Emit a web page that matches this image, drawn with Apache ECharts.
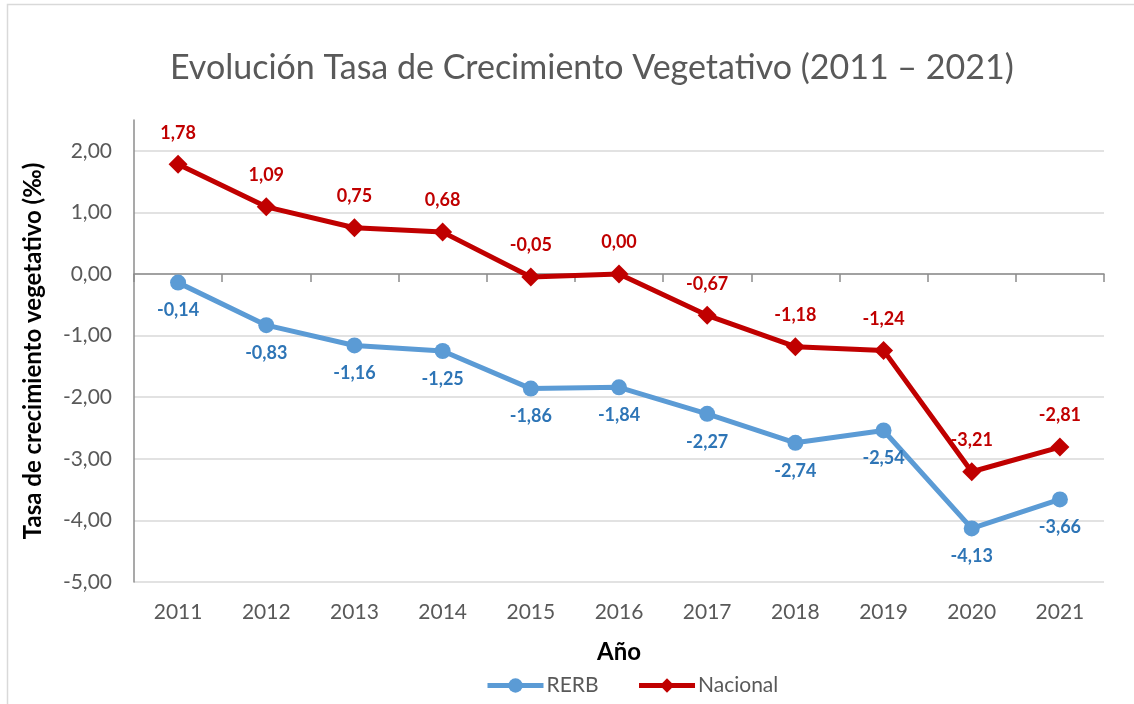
<!DOCTYPE html>
<html><head><meta charset="utf-8">
<script src="https://cdn.jsdelivr.net/npm/echarts@6/dist/echarts.min.js"></script>
<style>html,body{margin:0;padding:0;background:#fff}#c{width:1134px;height:704px}</style>
</head><body><div id="c"></div>
<script>
const years = ['2011','2012','2013','2014','2015','2016','2017','2018','2019','2020','2021'];
const rerb = [-0.14,-0.83,-1.16,-1.25,-1.86,-1.84,-2.27,-2.74,-2.54,-4.13,-3.66];
const nacional = [1.78,1.09,0.75,0.68,-0.05,0.00,-0.67,-1.18,-1.24,-3.21,-2.81];
const FONT = 'Lato';
const fmt = v => v.toFixed(2).replace('.', ',');
const chart = echarts.init(document.getElementById('c'), null, {renderer:'canvas'});
chart.setOption({
  animation:false,
  textStyle:{fontFamily:FONT},
  graphic:[{type:'rect',shape:{x:7.5,y:4.5,width:1140,height:710},style:{fill:'none',stroke:'#d9d9d9',lineWidth:1.5},silent:true}],
  title:{text:'Evolución Tasa de Crecimiento Vegetativo (2011 – 2021)',left:165,top:46,
    textStyle:{fontFamily:FONT,fontSize:34,fontWeight:'normal',color:'#595959'}},
  grid:{left:134,right:30,top:120,bottom:122},
  legend:{top:670,left:480,itemWidth:56,itemHeight:18,itemGap:38,
    lineStyle:{width:5},
    textStyle:{fontFamily:FONT,fontSize:21,color:'#595959',padding:[0,0,0,-2]},
    data:['RERB','Nacional']},
  xAxis:{type:'category',data:years,boundaryGap:true,
    name:'Año',nameLocation:'middle',nameGap:58,
    nameTextStyle:{fontFamily:FONT,fontSize:24,fontWeight:'bold',color:'#000'},
    axisLine:{lineStyle:{color:'#8c8c8c',width:1.5}},
    axisTick:{show:true,length:8,alignWithLabel:false,lineStyle:{color:'#8c8c8c',width:1.5}},
    axisLabel:{fontFamily:FONT,fontSize:21,color:'#595959',margin:20}},
  yAxis:{type:'value',min:-5,max:2.5,interval:1,
    name:'Tasa de crecimiento vegetativo (‰)',nameLocation:'middle',nameGap:89,nameRotate:90,
    nameTextStyle:{fontFamily:FONT,fontSize:24,fontWeight:'bold',color:'#000'},
    axisLine:{show:true,lineStyle:{color:'#8c8c8c',width:1.5}},
    axisTick:{show:false},
    axisLabel:{fontFamily:FONT,fontSize:21,color:'#595959',margin:22,
      formatter:v=> Number.isInteger(v) ? fmt(v) : ''},
    splitLine:{show:true,showMaxLine:false,lineStyle:{color:'#d9d9d9',width:1.5}}},
  series:[
    {name:'RERB',type:'line',data:rerb,symbol:'circle',symbolSize:16,
      lineStyle:{color:'#5b9bd5',width:5},itemStyle:{color:'#5b9bd5'},
      label:{show:true,position:'bottom',distance:11,formatter:p=>fmt(p.value),
        fontFamily:FONT,fontSize:18,fontWeight:'bold',color:'#2e75b6'}},
    {name:'Nacional',type:'line',data:nacional,symbol:'diamond',symbolSize:19,
      lineStyle:{color:'#c00000',width:5},itemStyle:{color:'#c00000'},
      label:{show:true,position:'top',distance:13,formatter:p=>fmt(p.value),
        fontFamily:FONT,fontSize:18,fontWeight:'bold',color:'#c00000'}}
  ]
});
</script></body></html>
